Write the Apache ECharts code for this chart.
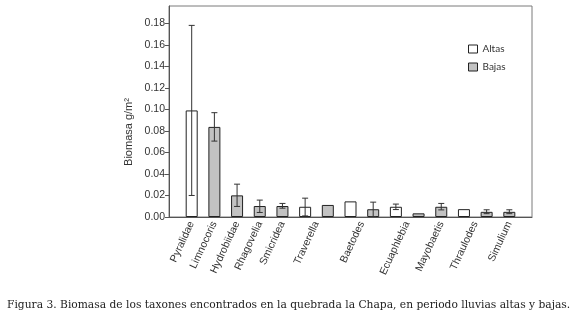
<!DOCTYPE html>
<html>
<head>
<meta charset="utf-8">
<script src="https://cdn.jsdelivr.net/npm/echarts@6/dist/echarts.min.js"></script>
<style>
html,body{margin:0;padding:0;background:#fff;}
#c{width:580px;height:322px;}
</style>
</head>
<body>
<div id="c"></div>
<script>
const categories = ['Pyralidae','Limnocoris','Hydrobiidae','Rhagovelia','Smicridea','Traverella','Baetodes','Ecuaphlebia','Mayobaetis','Thraulodes','Simulium'];
const altas     = [0.099, null, null, null, null, 0.0095, 0.0145, 0.0095, null, 0.0073, null];
const altasLow  = [0.020, null, null, null, null, 0.0010, null, 0.0069, null, null, null];
const altasHigh = [0.178, null, null, null, null, 0.0175, null, 0.0120, null, null, null];
const bajas     = [null, 0.0837, 0.0201, 0.0102, 0.0102, 0.0112, 0.0072, 0.0034, 0.0095, 0.0048, 0.0048];
const bajasLow  = [null, 0.0705, 0.0098, 0.0042, 0.0082, null, 0.0004, null, 0.0066, 0.0031, 0.0031];
const bajasHigh = [null, 0.0969, 0.0305, 0.0157, 0.0126, null, 0.0138, null, 0.0126, 0.0067, 0.0067];
const yTicks = [0, 0.02, 0.04, 0.06, 0.08, 0.10, 0.12, 0.14, 0.16, 0.18];
const seriesNames = ['Altas', 'Bajas'];
const yAxisTitle = 'Biomasa g/m²';
const caption = 'Figura 3. Biomasa de los taxones encontrados en la quebrada la Chapa, en periodo lluvias altas y bajas.';

// Build half-slot positions: each present bar occupies one slot; labels at center of its bars
let slot = 1;
const altasData = [], bajasData = [], errData = [];
const labelAt = {};
categories.forEach((name, i) => {
  const first = slot;
  if (altas[i] != null) {
    altasData.push([2 * slot, altas[i]]);
    if (altasLow[i] != null) errData.push([2 * slot, altasLow[i], altasHigh[i]]);
    slot++;
  }
  if (bajas[i] != null) {
    bajasData.push([2 * slot, bajas[i]]);
    if (bajasLow[i] != null) errData.push([2 * slot, bajasLow[i], bajasHigh[i]]);
    slot++;
  }
  labelAt[first + (slot - 1)] = name;
});
const nPoints = 2 * slot + 1;
const axisCats = [];
for (let k = 0; k < nPoints; k++) axisCats.push(labelAt[k] || '');

const chart = echarts.init(document.getElementById('c'), null, {renderer: 'canvas'});
chart.setOption({
  animation: false,
  grid: {left: 169, right: 48, top: 6, bottom: 105, show: true, borderColor: '#7a7a7a', borderWidth: 1},
  legend: {
    data: seriesNames, orient: 'vertical', left: 463, top: 39, itemWidth: 9, itemHeight: 8, itemGap: 8,
    icon: 'rect', itemStyle: {borderWidth: 1, borderColor: '#222'},
    textStyle: {fontFamily: 'Lato', fontSize: 10, color: '#333'}
  },
  xAxis: {
    type: 'category', data: axisCats, boundaryGap: false,
    axisLine: {lineStyle: {color: '#555', width: 1}},
    axisTick: {show: false},
    axisLabel: {interval: 0, rotate: 65, margin: 5, fontFamily: 'Liberation Sans', fontSize: 10.5, color: '#333'},
    splitLine: {show: false}
  },
  yAxis: {
    type: 'value', min: 0, max: 0.196,
    axisLine: {show: true, lineStyle: {color: '#555', width: 1}},
    axisTick: {show: true, length: 4, customValues: yTicks, lineStyle: {color: '#555'}},
    axisLabel: {customValues: yTicks, margin: 4, fontFamily: 'Liberation Sans', fontSize: 10.5, color: '#333',
      formatter: v => v.toFixed(2)},
    splitLine: {show: false}
  },
  series: [
    {name: seriesNames[0], type: 'bar', data: altasData, barWidth: 12, barGap: '-100%',
      itemStyle: {color: '#ffffff', borderColor: '#222', borderWidth: 1}},
    {name: seriesNames[1], type: 'bar', data: bajasData, barWidth: 12, barGap: '-100%',
      itemStyle: {color: '#c2c2c2', borderColor: '#222', borderWidth: 1}},
    {type: 'custom', data: errData, z: 10,
      renderItem: function (params, api) {
        const x = api.value(0);
        const lo = api.coord([x, api.value(1)]);
        const hi = api.coord([x, api.value(2)]);
        const cap = 3;
        const st = {stroke: '#333', lineWidth: 1};
        return {type: 'group', children: [
          {type: 'line', shape: {x1: lo[0], y1: lo[1], x2: hi[0], y2: hi[1]}, style: st},
          {type: 'line', shape: {x1: lo[0] - cap, y1: lo[1], x2: lo[0] + cap, y2: lo[1]}, style: st},
          {type: 'line', shape: {x1: hi[0] - cap, y1: hi[1], x2: hi[0] + cap, y2: hi[1]}, style: st}
        ]};
      }
    }
  ],
  graphic: [
    {type: 'text', x: 129, y: 132, rotation: Math.PI / 2,
      style: {text: yAxisTitle, fontFamily: 'Liberation Sans', fontSize: 11, fill: '#333', align: 'center', verticalAlign: 'middle'}},
    {type: 'text', left: 7, top: 300,
      style: {text: caption, fontFamily: 'DejaVu Serif', fontSize: 10.7, fill: '#222'}}
  ]
});
</script>
</body>
</html>
